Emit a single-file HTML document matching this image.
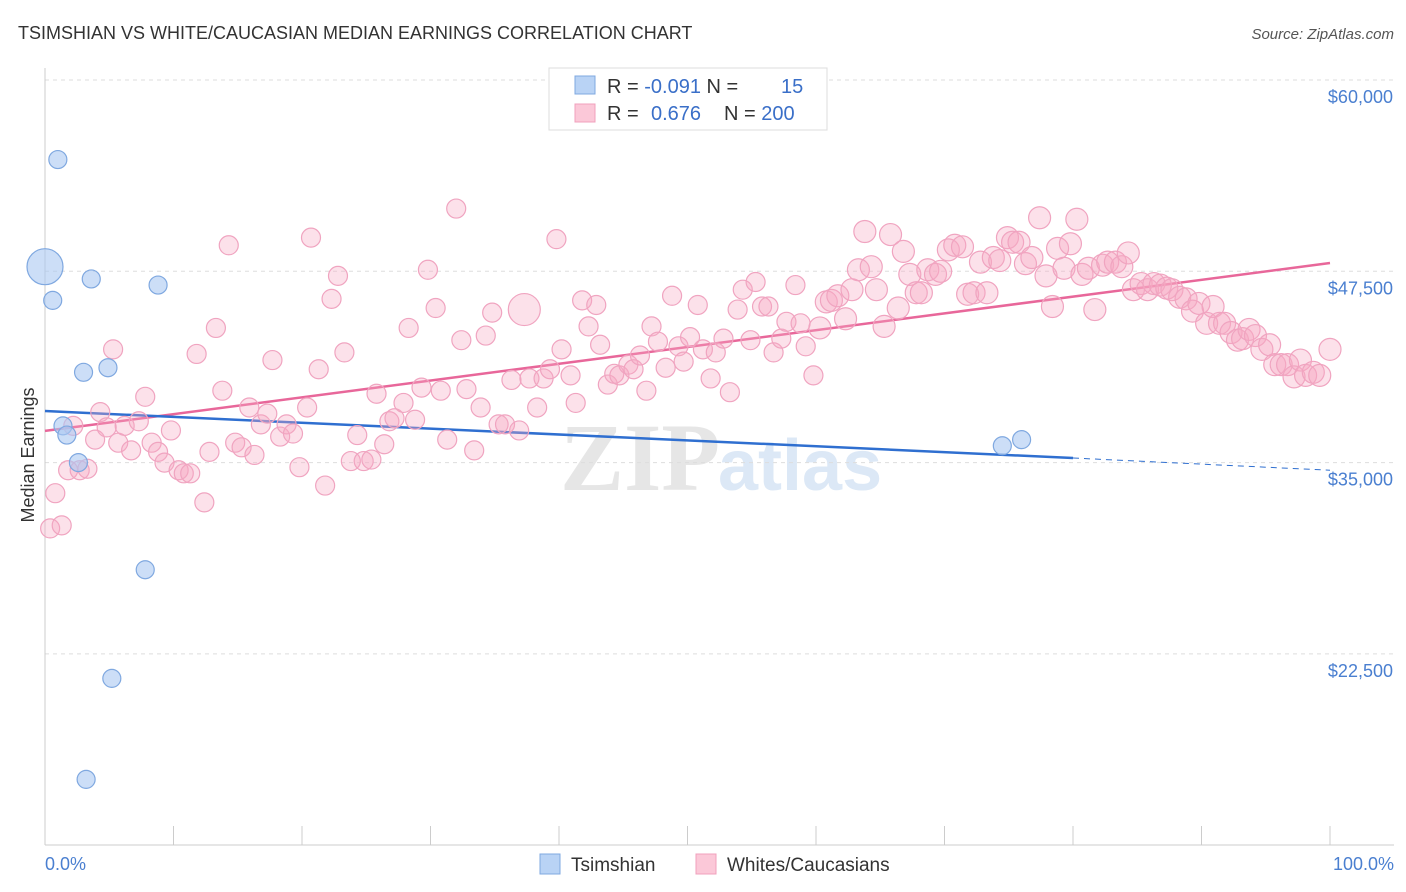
<!DOCTYPE html>
<html><head><meta charset="utf-8">
<style>
body{margin:0;background:#fff;font-family:"Liberation Sans",sans-serif;}
#wrap{position:relative;width:1406px;height:892px;overflow:hidden;}
</style></head>
<body>
<div id="wrap">
<svg id="svg" width="1406" height="892" xmlns="http://www.w3.org/2000/svg">
  <text x="18" y="39" font-size="18" fill="#333">TSIMSHIAN VS WHITE/CAUCASIAN MEDIAN EARNINGS CORRELATION CHART</text>
  <text x="1394" y="39" font-size="15" fill="#555" font-style="italic" text-anchor="end">Source: ZipAtlas.com</text>
  <text x="720" y="490" font-size="96" fill="#e6e6e6" text-anchor="end" font-family="Liberation Serif" font-weight="bold">ZIP</text>
  <text x="718" y="490" font-size="72" fill="#dce8f6" font-weight="bold">atlas</text>
  <g id="grid"></g>
  <g id="axes"></g>
  <g id="lines"></g>
  <g id="pts"></g>
  <text x="34" y="455" font-size="18" fill="#333" text-anchor="middle" transform="rotate(-90 34 455)">Median Earnings</text>
  <text x="45" y="870" font-size="18" fill="#4a7fd0">0.0%</text>
  <text x="1394" y="870" font-size="18" fill="#4a7fd0" text-anchor="end">100.0%</text>
  <g>
    <rect x="549" y="68" width="278" height="62" fill="#fff" stroke="#ddd"/>
    <rect x="575" y="76" width="20" height="18" fill="#b9d3f5" stroke="#7fa8e0"/>
    <rect x="575" y="104" width="20" height="18" fill="#fbc8d8" stroke="#f0a0bc"/>
    <text x="607" y="93" font-size="20" fill="#333">R = <tspan fill="#3a6fc8">-0.091</tspan>   N = <tspan fill="#3a6fc8" x="781">15</tspan></text>
    <text x="607" y="120" font-size="20" fill="#333">R = <tspan fill="#3a6fc8" x="651">0.676</tspan>   <tspan x="724">N = </tspan><tspan fill="#3a6fc8">200</tspan></text>
  </g>
  <g>
    <rect x="540" y="854" width="20" height="20" fill="#b9d3f5" stroke="#7fa8e0"/>
    <text x="571" y="871" font-size="19" fill="#333">Tsimshian</text>
    <rect x="696" y="854" width="20" height="20" fill="#fbc8d8" stroke="#f0a0bc"/>
    <text x="727" y="871" font-size="19" fill="#333">Whites/Caucasians</text>
  </g>
</svg>
</div>
<script>
const yTicks=[60000,47500,35000,22500];
const yTickLabels=["$60,000","$47,500","$35,000","$22,500"];
const xTicks=[0,10,20,30,40,50,60,70,80,90,100];
const blueX=[1.0,0,0.6,3.6,8.8,3.0,4.9,1.4,1.7,2.6,7.8,5.2,3.2,74.5,76.0];
const blueY=[54.8,47.8,45.6,47.0,46.6,40.9,41.2,37.4,36.8,35.0,28.0,20.9,14.3,36.1,36.5];
const blueR=[9,18,9,9,9,9,9,9,9,9,9,9,9,9,9];
const pinkX=[0.4,0.8,1.3,1.8,2.2,2.7,3.3,3.9,4.3,4.8,5.3,5.7,6.2,6.7,7.3,7.8,8.3,8.8,9.3,9.8,10.4,10.8,11.3,11.8,12.4,12.8,13.3,13.8,14.3,14.8,15.3,15.9,16.3,16.8,17.3,17.7,18.3,18.8,19.3,19.8,20.4,20.7,21.3,21.8,22.3,22.8,23.3,23.8,24.3,24.8,25.4,25.8,26.4,26.8,27.2,27.9,28.3,28.8,29.3,29.8,30.4,30.8,31.3,32.0,32.4,32.8,33.4,33.9,34.3,34.8,35.3,35.8,36.3,36.9,37.3,37.7,38.3,38.8,39.3,39.8,40.2,40.9,41.3,41.8,42.3,42.9,43.2,43.8,44.3,44.7,45.4,45.8,46.3,46.8,47.2,47.7,48.3,48.8,49.3,49.7,50.2,50.8,51.2,51.8,52.2,52.8,53.3,53.9,54.3,54.9,55.3,55.8,56.3,56.7,57.3,57.7,58.4,58.8,59.2,59.8,60.3,60.8,61.2,61.7,62.3,62.8,63.3,63.8,64.3,64.7,65.3,65.8,66.4,66.8,67.3,67.8,68.2,68.7,69.3,69.7,70.3,70.8,71.4,71.8,72.3,72.8,73.3,73.8,74.3,74.9,75.3,75.8,76.3,76.8,77.4,77.9,78.4,78.8,79.3,79.8,80.3,80.7,81.2,81.7,82.3,82.7,83.3,83.8,84.3,84.7,85.3,85.8,86.3,86.8,87.3,87.7,88.3,88.8,89.3,89.8,90.4,90.9,91.4,91.8,92.3,92.8,93.2,93.7,94.2,94.7,95.3,95.7,96.2,96.7,97.2,97.7,98.1,98.7,99.2,100];
const pinkY=[30.7,33.0,30.9,34.5,37.4,34.5,34.6,36.5,38.3,37.3,42.4,36.3,37.4,35.8,37.7,39.3,36.3,35.7,35.0,37.1,34.5,34.3,34.3,42.1,32.4,35.7,43.8,39.7,49.2,36.3,36.0,38.6,35.5,37.5,38.2,41.7,36.7,37.5,36.9,34.7,38.6,49.7,41.1,33.5,45.7,47.2,42.2,35.1,36.8,35.1,35.2,39.5,36.2,37.7,37.9,38.9,43.8,37.8,39.9,47.6,45.1,39.7,36.5,51.6,43.0,39.8,35.8,38.6,43.3,44.8,37.5,37.5,40.4,37.1,45.0,40.5,38.6,40.5,41.1,49.6,42.4,40.7,38.9,45.6,43.9,45.3,42.7,40.1,40.8,40.7,41.4,41.1,42.0,39.7,43.9,42.9,41.2,45.9,42.6,41.6,43.2,45.3,42.4,40.5,42.2,43.1,39.6,45.0,46.3,43.0,46.8,45.2,45.2,42.2,43.1,44.2,46.6,44.1,42.6,40.7,43.8,45.5,45.6,45.9,44.4,46.3,47.6,50.1,47.8,46.3,43.9,49.9,45.1,48.8,47.3,46.1,46.1,47.6,47.3,47.5,48.9,49.2,49.1,46.0,46.1,48.1,46.1,48.4,48.2,49.7,49.4,49.4,48.0,48.4,51.0,47.2,45.2,49.0,47.7,49.3,50.9,47.3,47.7,45.0,47.9,48.1,48.1,47.8,48.7,46.3,46.7,46.3,46.7,46.6,46.4,46.3,45.8,45.7,44.9,45.4,44.1,45.2,44.1,44.1,43.5,43.0,43.1,43.7,43.3,42.4,42.7,41.4,41.4,41.4,40.6,41.7,40.7,40.9,40.7,42.4];
const blueTrend=[[0,38.37],[80,35.3],[100,34.5]];
const pinkTrend=[[0,37.07],[100,48.04]];

const NS="http://www.w3.org/2000/svg";
const xs=v=>45+v*12.85;
const ys=k=>80+(60-k)*1000/12500*191.3;
function mk(tag,attrs,parent){const e=document.createElementNS(NS,tag);for(const k in attrs)e.setAttribute(k,attrs[k]);parent.appendChild(e);return e;}
const grid=document.getElementById('grid'),axes=document.getElementById('axes'),lines=document.getElementById('lines'),pts=document.getElementById('pts');
yTicks.forEach((t,i)=>{
  const y=ys(t/1000);
  const l=mk('line',{x1:45,x2:1394,y1:y,y2:y,stroke:'#ddd','stroke-dasharray':'4,4'},grid);
  
  
  const tx=mk('text',{x:1393,y:y+23,'font-size':18,fill:'#4a7fd0','text-anchor':'end'},axes);
  tx.textContent=yTickLabels[i];
  
  
});
const xa=mk('line',{x1:45,x2:1394,y1:845,y2:845,stroke:'#ccc'},axes);


const ya=mk('line',{x1:45,x2:45,y1:68,y2:845,stroke:'#ccc'},axes);


xTicks.forEach(t=>{
  const tk=mk('line',{x1:xs(t),x2:xs(t),y1:826,y2:845,stroke:'#ccc'},axes);
  
  
});
pinkX.forEach((x,i)=>{
  const c=mk('circle',{cx:xs(x),cy:ys(pinkY[i]),r:i===74?16:(x>60?11:9.5),fill:'rgba(245,170,196,0.35)',stroke:'#f0a4c0','stroke-width':1.2},pts);
  
  
});
blueX.forEach((x,i)=>{
  const c=mk('circle',{cx:xs(x),cy:ys(blueY[i]),r:blueR[i],fill:'rgba(170,200,242,0.6)',stroke:'#7fa8e0','stroke-width':1.2},pts);
  
  
});
const pl=mk('line',{x1:xs(pinkTrend[0][0]),y1:ys(pinkTrend[0][1]),x2:xs(pinkTrend[1][0]),y2:ys(pinkTrend[1][1]),stroke:'#e8679a','stroke-width':2.5},lines);


const bl=mk('line',{x1:xs(blueTrend[0][0]),y1:ys(blueTrend[0][1]),x2:xs(blueTrend[1][0]),y2:ys(blueTrend[1][1]),stroke:'#2f6fd0','stroke-width':2.5},lines);


const bd=mk('line',{x1:xs(blueTrend[1][0]),y1:ys(blueTrend[1][1]),x2:xs(blueTrend[2][0]),y2:ys(blueTrend[2][1]),stroke:'#2f6fd0','stroke-width':1,'stroke-dasharray':'6,5'},lines);


</script>
</body></html>
